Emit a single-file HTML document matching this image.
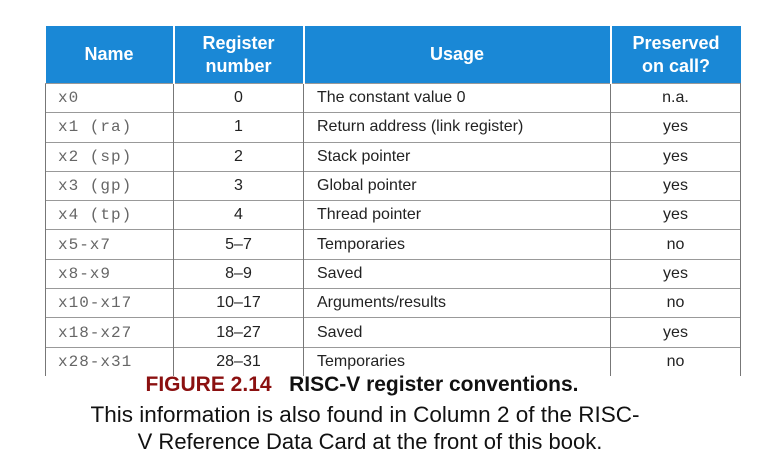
<!DOCTYPE html>
<html><head><style>
body{margin:0;background:#fff;width:778px;height:474px;overflow:hidden;position:relative;font-family:"Liberation Sans",sans-serif}
table{position:absolute;left:45px;top:26px;border-collapse:collapse;table-layout:fixed;width:695px}
th{background:#1a88d6;color:#fff;font-weight:bold;font-size:18px;line-height:23px;height:57px;padding:0;border-right:2px solid #fff;text-align:center}
th:last-child{border-right:none}
td{height:28.3px;padding:0;border-top:1px solid #999;border-left:1px solid #777;font-size:16px;color:#222;text-align:center}
td:last-child{border-right:1px solid #777}
td.n{text-align:left;padding-left:12px;font-family:"Liberation Mono",monospace;color:#666;font-size:16px;letter-spacing:1px}
td.u{text-align:left;padding-left:13px}
.cap{position:absolute;left:0;width:778px;text-align:center;color:#111}
</style></head><body>
<table>
<colgroup><col style="width:128px"><col style="width:130px"><col style="width:307px"><col style="width:130px"></colgroup>
<tr><th>Name</th><th>Register<br>number</th><th>Usage</th><th>Preserved<br>on call?</th></tr>
<tr><td class="n">x0</td><td>0</td><td class="u">The constant value 0</td><td>n.a.</td></tr>
<tr><td class="n">x1 (ra)</td><td>1</td><td class="u">Return address (link register)</td><td>yes</td></tr>
<tr><td class="n">x2 (sp)</td><td>2</td><td class="u">Stack pointer</td><td>yes</td></tr>
<tr><td class="n">x3 (gp)</td><td>3</td><td class="u">Global pointer</td><td>yes</td></tr>
<tr><td class="n">x4 (tp)</td><td>4</td><td class="u">Thread pointer</td><td>yes</td></tr>
<tr><td class="n">x5-x7</td><td>5–7</td><td class="u">Temporaries</td><td>no</td></tr>
<tr><td class="n">x8-x9</td><td>8–9</td><td class="u">Saved</td><td>yes</td></tr>
<tr><td class="n">x10-x17</td><td>10–17</td><td class="u">Arguments/results</td><td>no</td></tr>
<tr><td class="n">x18-x27</td><td>18–27</td><td class="u">Saved</td><td>yes</td></tr>
<tr><td class="n">x28-x31</td><td>28–31</td><td class="u">Temporaries</td><td>no</td></tr>
</table>
<div class="cap" style="top:373px;font-size:21px;font-weight:bold;left:-27px"><span style="color:#8b1010">FIGURE 2.14</span>&nbsp;&nbsp; RISC-V register conventions.</div>
<div class="cap" style="top:402px;font-size:22.5px;left:-24px">This information is also found in Column 2 of the RISC-</div>
<div class="cap" style="top:429px;font-size:22px;left:-19px">V Reference Data Card at the front of this book.</div>
</body></html>
